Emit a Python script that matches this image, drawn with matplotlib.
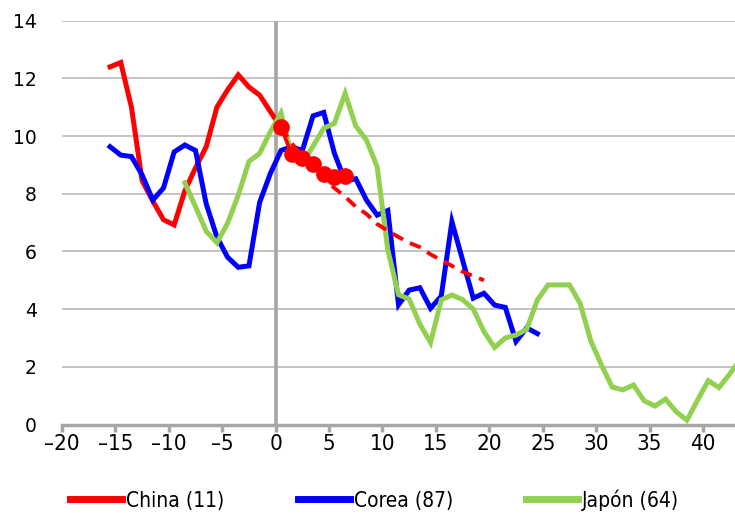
import matplotlib
matplotlib.use("Agg")
import matplotlib.pyplot as plt
import numpy as np

# ---- data ----
china_x = [-15.5, -14.5, -13.5, -12.5, -11.5, -10.5, -9.5, -8.5, -7.5, -6.5, -5.5,
           -4.5, -3.5, -2.5, -1.5, -0.5, 0.5]
china_y = [12.4, 12.55, 11.0, 8.45, 7.75, 7.1, 6.92, 8.1, 8.9, 9.63, 11.0,
           11.6, 12.12, 11.7, 11.42, 10.85, 10.3]

china_pts_x = [0.5, 1.5, 2.5, 3.5, 4.5, 5.5, 6.5]
china_pts_y = [10.3, 9.38, 9.25, 9.03, 8.67, 8.57, 8.62]

china_proj_x = [0.5, 1.5, 2.5, 3.5, 4.5, 5.5, 6.5, 7.5, 8.5, 9.5, 10.5, 11.5, 12.5,
                13.5, 14.5, 15.5, 16.5, 17.5, 18.5, 19.5]
china_proj_y = [10.3, 9.75, 9.3, 8.9, 8.55, 8.2, 7.9, 7.55, 7.3, 6.95, 6.72, 6.5, 6.3,
                6.15, 5.9, 5.7, 5.5, 5.3, 5.15, 5.0]

corea_x = [-15.5, -14.5, -13.5, -12.5, -11.5, -10.5, -9.5, -8.5, -7.5, -6.5, -5.5,
           -4.5, -3.5, -2.5, -1.5, -0.5, 0.5, 1.5, 2.5, 3.5, 4.5, 5.5, 6.5, 7.5,
           8.5, 9.5, 10.5, 11.5, 12.5, 13.5, 14.5, 15.5, 16.5, 17.5, 18.5, 19.5,
           20.5, 21.5, 22.5, 23.5, 24.5]
corea_y = [9.63, 9.34, 9.29, 8.65, 7.78, 8.2, 9.45, 9.69, 9.5, 7.65, 6.5,
           5.8, 5.45, 5.5, 7.7, 8.7, 9.5, 9.63, 9.5, 10.7, 10.82, 9.4, 8.45, 8.52,
           7.78, 7.26, 7.42, 4.15, 4.66, 4.74, 4.03, 4.45, 7.03, 5.7, 4.38, 4.55,
           4.14, 4.06, 2.88, 3.35, 3.15]

japon_x = [-8.5, -7.5, -6.5, -5.5, -4.5, -3.5, -2.5, -1.5, -0.5, 0.5, 1.5, 2.5,
           3.5, 4.5, 5.5, 6.5, 7.5, 8.5, 9.5, 10.5, 11.5, 12.5, 13.5, 14.5, 15.5,
           16.5, 17.5, 18.5, 19.5, 20.5, 21.5, 22.5, 23.5, 24.5, 25.5, 26.5, 27.5,
           28.5, 29.5, 30.5, 31.5, 32.5, 33.5, 34.5, 35.5, 36.5, 37.5, 38.5, 39.5,
           40.5, 41.5, 42.5, 43.5]
japon_y = [8.38, 7.55, 6.7, 6.3, 6.98, 7.95, 9.12, 9.4, 10.15, 10.8, 9.35, 9.05,
           9.65, 10.27, 10.44, 11.48, 10.35, 9.86, 8.94, 6.05, 4.5, 4.35, 3.48, 2.84, 4.32,
           4.49, 4.33, 4.0, 3.22, 2.67, 3.0, 3.1, 3.3, 4.32, 4.84, 4.84, 4.84,
           4.2, 2.9, 2.06, 1.3, 1.2, 1.37, 0.82, 0.64, 0.88, 0.44, 0.15, 0.85,
           1.52, 1.28, 1.75, 2.25]

labels = ["China (11)", "Corea (87)", "Japón (64)"]
x_ticks = list(range(-20, 41, 5))
y_ticks = list(range(0, 15, 2))

RED = "#FF0000"
BLUE = "#0000FF"
GREEN = "#92D050"
GRID = "#BFBFBF"
AXC = "#A6A6A6"

fig = plt.figure(figsize=(7.35, 5.16), dpi=100)
ax = fig.add_axes([62 / 735, 1 - 424.5 / 516, 1 - 62 / 735, (424.5 - 20.7) / 516])

ax.set_xlim(-20, 43.0)
ax.set_ylim(0, 14)

for yv in y_ticks[1:]:
    ax.axhline(yv, color=GRID, lw=1.3, zorder=1)
ax.axvline(0, color=AXC, lw=2.6, zorder=1.5)

l1, = ax.plot(china_x, china_y, color=RED, lw=3.6, solid_joinstyle="miter", zorder=3)
l2, = ax.plot(corea_x, corea_y, color=BLUE, lw=3.6, solid_joinstyle="miter", zorder=3)
l3, = ax.plot(japon_x, japon_y, color=GREEN, lw=3.6, solid_joinstyle="miter", zorder=3)
ax.plot(china_proj_x, china_proj_y, color=RED, lw=2.8, dashes=(3, 2), zorder=4)
ax.plot(china_pts_x, china_pts_y, color=RED, lw=2.6, marker="o", ms=11, mec=RED,
        mfc=RED, zorder=5)

for s in ["top", "right", "left"]:
    ax.spines[s].set_visible(False)
ax.spines["bottom"].set_color(AXC)
ax.spines["bottom"].set_linewidth(2.5)
ax.spines["bottom"].set_zorder(6)

ax.set_xticks(x_ticks)
ax.set_xticklabels([("\u2013" + str(-v)) if v < 0 else str(v) for v in x_ticks],
                   fontfamily="DejaVu Sans", fontstretch="condensed", fontsize=16)
ax.tick_params(axis="x", direction="out", length=5, width=2.5, color=AXC, pad=1.5)
ax.set_yticks(y_ticks)
ax.set_yticklabels([str(v) for v in y_ticks], fontfamily="DejaVu Sans", fontsize=13.5)
ax.tick_params(axis="y", length=0, pad=18)

leg = fig.legend([l1, l2, l3], labels, loc="center", bbox_to_anchor=(0.51, 1 - 500 / 516),
                 ncol=3, frameon=False,
                 prop={"family": "DejaVu Sans", "stretch": "condensed", "size": 15},
                 handlelength=2.5, handletextpad=0.2, columnspacing=3.5)
for h in leg.get_lines():
    h.set_linewidth(5)

fig.savefig("out.png", dpi=100)
